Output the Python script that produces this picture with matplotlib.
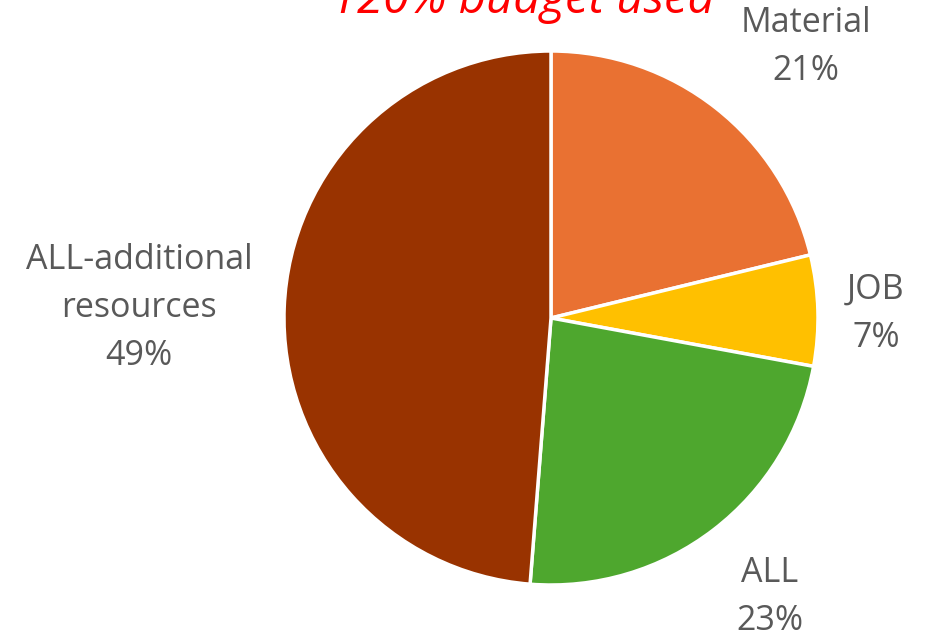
import matplotlib
matplotlib.use("Agg")
import matplotlib.pyplot as plt

# ----------------------------------------------------------
# Data
# ----------------------------------------------------------

categories = ["Material", "JOB", "ALL", "ALL-additional\nresources"]
shares = [21.2, 6.7, 23.35, 48.75]
colors = ["#E97132", "#FFC000", "#4EA72E", "#993300"]
title_text = "120% budget used"

# label anchor points (pie radius units)
label_pos = [(0.955, 1.015), (1.217, 0.015), (0.82, -1.045), (-1.543, 0.038)]

# ----------------------------------------------------------
# Plot
# ----------------------------------------------------------

W, H = 930, 637
fig = plt.figure(figsize=(W / 100, H / 100), dpi=100)

cx, cy, r = 551, 318, 267
ax = fig.add_axes([(cx - r) / W, (H - cy - r) / H, 2 * r / W, 2 * r / H])

ax.pie(
    shares,
    colors=colors,
    startangle=90,
    counterclock=False,
    radius=1.0,
    wedgeprops=dict(edgecolor="white", linewidth=2.5),
)
ax.set_xlim(-1, 1)
ax.set_ylim(-1, 1)
ax.set_aspect("equal")
ax.axis("off")

total = sum(shares)
for name, val, (x, y) in zip(categories, shares, label_pos):
    ax.text(x, y, f"{name}\n{val / total * 100:.0f}%", ha="center", va="center",
            fontsize=24.5, color="#595959", family="Open Sans",
            linespacing=1.55, clip_on=False)

fig.text(523 / W, 1 - 13 / H, title_text, ha="center", va="baseline",
         fontsize=34, color="red", style="italic", family="Open Sans")

fig.savefig("out.png", dpi=100)
